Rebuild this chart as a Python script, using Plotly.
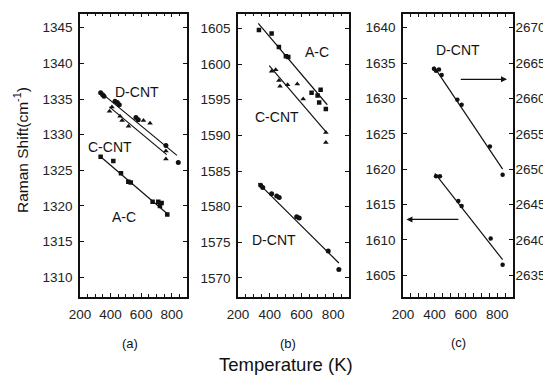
import plotly.graph_objects as go

# ---------------- data ----------------
# Panel (a): D band region
a_dcnt_T = [335, 348, 357, 429, 444, 457, 566, 581, 762, 843]
a_dcnt_v = [1335.9, 1335.6, 1335.4, 1334.7, 1334.5, 1334.2, 1332.4, 1332.1, 1328.5, 1326.1]
a_dcnt_fit_T = [331, 834]
a_dcnt_fit_v = [1336.0, 1327.1]

a_ccnt_T = [393, 409, 462, 475, 517, 615, 658, 762, 762]
a_ccnt_v = [1333.3, 1333.9, 1332.6, 1332.0, 1331.2, 1332.0, 1331.6, 1327.7, 1326.6]
a_ccnt_fit_T = [392, 767]
a_ccnt_fit_v = [1333.9, 1327.2]

a_ac_T = [335, 418, 468, 516, 532, 675, 712, 723, 734, 771]
a_ac_v = [1326.9, 1326.3, 1324.6, 1323.4, 1323.3, 1320.6, 1320.6, 1320.0, 1320.4, 1318.8]
a_ac_fit_T = [335, 777]
a_ac_fit_v = [1326.9, 1318.8]

# Panel (b): G band region
b_ac_T = [332, 412, 458, 502, 517, 664, 702, 712, 721, 754]
b_ac_v = [1604.8, 1604.3, 1602.4, 1601.1, 1601.0, 1596.0, 1595.6, 1594.6, 1596.4, 1593.7]
b_ac_fit_T = [328, 763]
b_ac_fit_v = [1605.7, 1594.3]

b_ccnt_T = [412, 438, 458, 465, 513, 574, 611, 754, 754]
b_ccnt_v = [1599.0, 1599.2, 1597.7, 1596.9, 1597.1, 1597.2, 1595.1, 1590.4, 1589.0]
b_ccnt_fit_T = [397, 759]
b_ccnt_fit_v = [1599.8, 1590.4]

b_dcnt_T = [343, 356, 412, 444, 460, 570, 586, 769, 836]
b_dcnt_v = [1583.0, 1582.7, 1581.8, 1581.5, 1581.3, 1578.6, 1578.4, 1573.8, 1571.2]
b_dcnt_fit_T = [328, 836]
b_dcnt_fit_v = [1583.3, 1572.1]

# Panel (c): D-CNT, lower series on left axis, upper series on right axis
c_low_T = [410, 435, 552, 573, 758, 834]
c_low_v = [1619.0, 1619.0, 1615.5, 1614.8, 1610.2, 1606.5]
c_low_fit_T = [403, 834]
c_low_fit_v = [1619.4, 1607.2]

c_up_T = [397, 410, 429, 446, 546, 573, 753, 834]
c_up_v = [2664.2, 2663.9, 2664.1, 2663.3, 2659.8, 2659.1, 2653.2, 2649.2]
c_up_fit_T = [397, 834]
c_up_fit_v = [2664.5, 2650.0]

x_ticks = [200, 400, 600, 800]

# ---------------- figure ----------------
W, H = 551, 379
OX, OY = 8, 8          # page body margin that offsets the plot
FONT = "Arial, Liberation Sans, Helvetica, sans-serif"
INK = "#111111"

def px(xp):
    return (xp - OX) / W

def py(yp):
    return 1 - (yp - OY) / H

fig = go.Figure()

def pts(x, y, xa, ya, sym, size=5):
    fig.add_trace(go.Scatter(x=x, y=y, xaxis=xa, yaxis=ya, mode="markers",
                             marker=dict(symbol=sym, size=size, color=INK),
                             showlegend=False, hoverinfo="skip"))

def fit(x, y, xa, ya):
    fig.add_trace(go.Scatter(x=x, y=y, xaxis=xa, yaxis=ya, mode="lines",
                             line=dict(color=INK, width=1.2),
                             showlegend=False, hoverinfo="skip"))

# (a)
pts(a_dcnt_T, a_dcnt_v, "x", "y", "circle")
fit(a_dcnt_fit_T, a_dcnt_fit_v, "x", "y")
pts(a_ccnt_T, a_ccnt_v, "x", "y", "triangle-up")
fit(a_ccnt_fit_T, a_ccnt_fit_v, "x", "y")
pts(a_ac_T, a_ac_v, "x", "y", "square", 4.5)
fit(a_ac_fit_T, a_ac_fit_v, "x", "y")
# (b)
pts(b_ac_T, b_ac_v, "x2", "y2", "square", 4.5)
fit(b_ac_fit_T, b_ac_fit_v, "x2", "y2")
pts(b_ccnt_T, b_ccnt_v, "x2", "y2", "triangle-up")
fit(b_ccnt_fit_T, b_ccnt_fit_v, "x2", "y2")
pts(b_dcnt_T, b_dcnt_v, "x2", "y2", "circle")
fit(b_dcnt_fit_T, b_dcnt_fit_v, "x2", "y2")
# (c)
pts(c_low_T, c_low_v, "x3", "y3", "circle", 4.5)
fit(c_low_fit_T, c_low_fit_v, "x3", "y3")
pts(c_up_T, c_up_v, "x3", "y4", "circle", 4.5)
fit(c_up_fit_T, c_up_fit_v, "x3", "y4")

tickfont = dict(family=FONT, size=13.5, color="#222")

def xax(domain, anchor):
    return dict(domain=domain, anchor=anchor, range=[200, 900],
                tickvals=x_ticks, ticks="inside", ticklen=4, tickwidth=1,
                tickcolor=INK, showline=True, linecolor=INK, linewidth=1.5,
                mirror="allticks", showgrid=False, zeroline=False,
                minor=dict(dtick=50, tick0=200, ticks="inside", ticklen=2.5,
                           tickcolor=INK, tickwidth=1, showgrid=False),
                tickfont=tickfont, automargin=False, fixedrange=True,
                ticklabelstandoff=5)

def yax(domain, anchor, rng, tv, mirror="allticks"):
    return dict(domain=domain, anchor=anchor, range=rng, tickvals=tv,
                ticks="inside", ticklen=4, tickwidth=1, tickcolor=INK,
                showline=True, linecolor=INK, linewidth=1.5, mirror=mirror,
                showgrid=False, zeroline=False, tickfont=tickfont,
                automargin=False, fixedrange=True, ticklabelstandoff=3)

ydom = [py(296.5), py(13.5)]

fig.update_layout(
    width=W, height=H,
    margin=dict(l=0, r=0, t=0, b=0),
    paper_bgcolor="white", plot_bgcolor="white",
    font=dict(family=FONT, color=INK),
    xaxis=xax([px(80), px(187)], "y"),
    yaxis=yax(ydom, "x", [1307.3, 1347.0], list(range(1310, 1346, 5))),
    xaxis2=xax([px(238), px(349)], "y2"),
    yaxis2=yax(ydom, "x2", [1567.4, 1607.1], list(range(1570, 1606, 5))),
    xaxis3=xax([px(403), px(513)], "y3"),
    yaxis3=yax(ydom, "x3", [1602.0, 1642.0], list(range(1605, 1641, 5)), mirror=True),
    yaxis4=dict(overlaying="y3", anchor="x3", side="right", range=[2632.0, 2672.0],
                tickvals=list(range(2635, 2671, 5)), ticks="inside", ticklen=4,
                tickwidth=1, tickcolor=INK, showline=True, linecolor=INK,
                linewidth=1.5, showgrid=False, zeroline=False, tickfont=tickfont,
                automargin=False, fixedrange=True, ticklabelstandoff=-2),
)

lab = dict(family=FONT, size=14, color=INK)
ann = [
    dict(text="D-CNT", x=576, y=1336.0, xref="x", yref="y"),
    dict(text="C-CNT", x=396, y=1328.3, xref="x", yref="y"),
    dict(text="A-C", x=491, y=1318.4, xref="x", yref="y"),
    dict(text="A-C", x=696, y=1601.7, xref="x2", yref="y2"),
    dict(text="C-CNT", x=444, y=1592.6, xref="x2", yref="y2"),
    dict(text="D-CNT", x=427, y=1575.3, xref="x2", yref="y2"),
    dict(text="D-CNT", x=553, y=1636.8, xref="x3", yref="y3"),
]
for a in ann:
    fig.add_annotation(showarrow=False, font=lab, xanchor="center", yanchor="middle", **a)

# arrows in panel (c)
fig.add_annotation(x=862, y=2662.7, xref="x3", yref="y4",
                   ax=558, ay=2662.7, axref="x3", ayref="y4",
                   showarrow=True, arrowhead=2, arrowsize=1, arrowwidth=1.2,
                   arrowcolor=INK, text="")
fig.add_annotation(x=222, y=1612.9, xref="x3", yref="y3",
                   ax=562, ay=1612.9, axref="x3", ayref="y3",
                   showarrow=True, arrowhead=2, arrowsize=1, arrowwidth=1.2,
                   arrowcolor=INK, text="")

# panel letters and axis titles
for t, xx, yy in [("(a)", 130, 343), ("(b)", 288, 343), ("(c)", 458, 342)]:
    fig.add_annotation(text=t, x=px(xx), y=py(yy), xref="paper", yref="paper",
                       xanchor="center", yanchor="middle", showarrow=False,
                       font=dict(family=FONT, size=13, color=INK))
fig.add_annotation(text="Temperature (K)", x=px(286), y=py(364), xref="paper", yref="paper",
                   xanchor="center", yanchor="middle", showarrow=False,
                   font=dict(family=FONT, size=18.5, color=INK))
fig.add_annotation(text="Raman Shift(cm<sup>-1</sup>)", x=px(21), y=py(150),
                   xref="paper", yref="paper", textangle=-90, showarrow=False,
                   xanchor="center", yanchor="middle",
                   font=dict(family=FONT, size=15.5, color=INK))

fig.write_html("out.html")
